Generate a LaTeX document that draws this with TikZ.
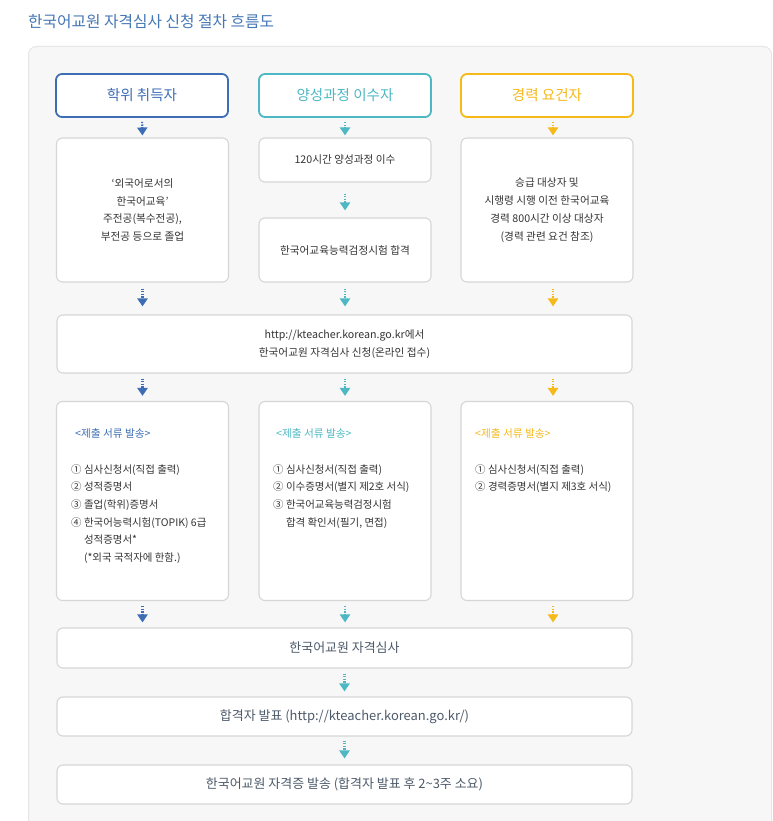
\documentclass[tikz,border=0pt]{standalone}
\usepackage{fontspec}
\setmainfont{Noto Sans CJK KR}
\usetikzlibrary{arrows.meta,positioning}

\definecolor{degblue}{HTML}{3D6DB5}
\definecolor{trainteal}{HTML}{4DB8C3}
\definecolor{careeryellow}{HTML}{F6B91A}
\definecolor{boxline}{HTML}{D6D6D6}
\definecolor{panelbg}{HTML}{F7F7F7}
\definecolor{paneledge}{HTML}{E6E6E6}
\definecolor{bodytext}{HTML}{333333}
\definecolor{steptext}{HTML}{4D5A6A}
\definecolor{titleblue}{HTML}{4577B5}

\begin{document}
\begin{tikzpicture}[x=1bp,y=-1bp,
    every node/.style={font=\fontsize{10.7}{18}\selectfont, text=bodytext},
    headbox/.style={draw=#1, text=#1, line width=1.8bp, rounded corners=6bp, fill=white,
      minimum width=172bp, minimum height=43bp, inner sep=0pt, font=\fontsize{14.6}{16}\selectfont},
    infobox/.style={draw=boxline, line width=1.1bp, rounded corners=6bp, fill=white,
      minimum width=172bp, inner sep=0pt, align=center},
    stepbox/.style={infobox, minimum width=575bp, text=steptext, font=\fontsize{13}{16}\selectfont},
    flowarrow/.style={draw=#1, line width=2.2bp, dash pattern=on 1.3bp off 1.3bp,
      -{Triangle[width=10bp,length=8bp]}, shorten <=5bp, shorten >=5bp},
    dochead/.style={anchor=west, text=#1, inner sep=0pt},
    doclist/.style={anchor=north west, align=left, inner sep=0pt, font=\fontsize{10.5}{17.8}\selectfont}]

    \fill[white] (0,0) rectangle (773,821);
    \useasboundingbox (0,0) rectangle (773,821);

    % title and grey panel
    \node[anchor=west, inner sep=0pt, text=titleblue, font=\fontsize{15.8}{18}\selectfont] (title) at (28,22)
      {한국어교원 자격심사 신청 절차 흐름도};
    \draw[draw=paneledge, fill=panelbg, line width=1bp, rounded corners=8bp] (28.5,46.5) rectangle (771.5,860);

    % applicant groups
    \node[headbox=degblue] (degree) at (142,95.5) {학위 취득자};
    \node[headbox=trainteal] (course) at (345,95.5) {양성과정 이수자};
    \node[headbox=careeryellow] (career) at (547,95.5) {경력 요건자};

    % requirements
    \node[infobox, minimum height=144bp] (major) at (142.5,210)
      {`외국어로서의\\한국어교육'\\주전공(복수전공),\\부전공 등으로 졸업};
    \node[infobox, minimum height=44bp] (hours) at (345,160) {120시간 양성과정 이수};
    \node[infobox, minimum height=64bp] (exam) at (345,250) {한국어교육능력검정시험 합격};
    \node[infobox, minimum height=144bp] (promo) at (547,210)
      {승급 대상자 및\\시행령 시행 이전 한국어교육\\경력 800시간 이상 대상자\\(경력 관련 요건 참조)};

    % online application
    \node[infobox, minimum width=575bp, minimum height=58bp] (apply) at (344.5,344)
      {http://kteacher.korean.go.kr에서\\한국어교원 자격심사 신청(온라인 접수)};

    % documents
    \node[infobox, minimum height=199bp] (docsA) at (142.5,501) {};
    \node[infobox, minimum height=199bp] (docsB) at (345,501) {};
    \node[infobox, minimum height=199bp] (docsC) at (547,501) {};

    \node[dochead=degblue] (headA) at (75,433) {<제출 서류 발송>};
    \node[dochead=trainteal] (headB) at (276,433) {<제출 서류 발송>};
    \node[dochead=careeryellow] (headC) at (475,433) {<제출 서류 발송>};

    \node[doclist] (listA) at (71,464)
      {① 심사신청서(직접 출력)\\② 성적증명서\\③ 졸업(학위)증명서\\④ 한국어능력시험(TOPIK) 6급\\
       \hphantom{① }성적증명서*\\\hphantom{① }(*외국 국적자에 한함.)};
    \node[doclist] (listB) at (273,464)
      {① 심사신청서(직접 출력)\\② 이수증명서(별지 제2호 서식)\\③ 한국어교육능력검정시험\\
       \hphantom{① }합격 확인서(필기, 면접)};
    \node[doclist] (listC) at (475,464)
      {① 심사신청서(직접 출력)\\② 경력증명서(별지 제3호 서식)};

    % review and results
    \node[stepbox, minimum height=40bp] (review) at (344.5,648) {한국어교원 자격심사};
    \node[stepbox, minimum height=39bp] (result) at (344.5,716.5) {합격자 발표 (http://kteacher.korean.go.kr/)};
    \node[stepbox, minimum height=39bp] (issue) at (344.5,784.5)
      {한국어교원 자격증 발송 (합격자 발표 후 2\textasciitilde3주 소요)};

    % arrows
    \draw[flowarrow=degblue, shorten <=4bp, shorten >=2bp] (degree.south) -- (major.north);
    \draw[flowarrow=trainteal, shorten <=4bp, shorten >=2bp] (course.south) -- (hours.north);
    \draw[flowarrow=careeryellow, shorten <=4bp, shorten >=2bp] ([xshift=6bp]career.south) -- ([xshift=6bp]promo.north);
    \draw[flowarrow=trainteal, shorten <=11bp, shorten >=7bp] (hours.south) -- (exam.north);

    \draw[flowarrow=degblue, shorten <=6bp, shorten >=8bp] (major.south) -- (major.south |- apply.north);
    \draw[flowarrow=trainteal, shorten <=6bp, shorten >=8bp] (exam.south) -- (exam.south |- apply.north);
    \draw[flowarrow=careeryellow, shorten <=6bp, shorten >=8bp] ([xshift=6bp]promo.south) -- ([xshift=6bp]promo.south |- apply.north);

    \foreach \col/\clr/\dx in {A/degblue/0, B/trainteal/0, C/careeryellow/6}
    {
      \draw[flowarrow=\clr] ([xshift=\dx bp]apply.south -| docs\col.north) -- ([xshift=\dx bp]docs\col.north);
      \draw[flowarrow=\clr] ([xshift=\dx bp]docs\col.south) -- ([xshift=\dx bp]docs\col.south |- review.north);
    }

    \draw[flowarrow=trainteal] (review.south) -- (result.north);
    \draw[flowarrow=trainteal, shorten <=4bp, shorten >=6bp] (result.south) -- (issue.north);
\end{tikzpicture}
\end{document}
